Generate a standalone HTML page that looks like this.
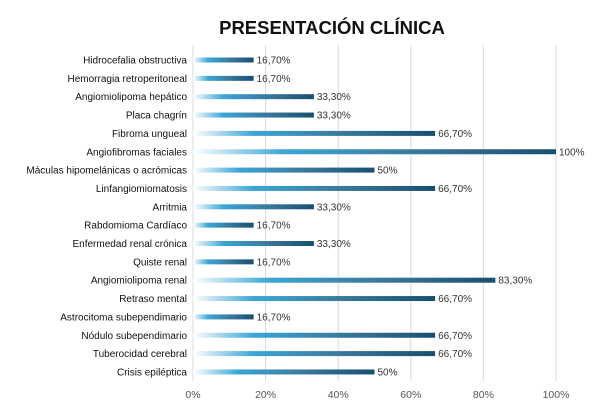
<!DOCTYPE html>
<html><head><meta charset="utf-8"><style>
body{margin:0;background:#fff;font-family:"Liberation Sans",sans-serif}
</style></head><body>
<svg id="c" width="600" height="406" xmlns="http://www.w3.org/2000/svg">
<defs><linearGradient id="g" x1="0" x2="1" y1="0" y2="0" gradientUnits="objectBoundingBox">
<stop offset="0" stop-color="#ffffff"/><stop offset="0.25" stop-color="#3aa6d8"/><stop offset="0.6" stop-color="#3a7a9e"/><stop offset="1" stop-color="#174f70"/></linearGradient></defs>
<text x="332" y="34" text-anchor="middle" font-size="18.5" font-weight="bold" fill="#111">PRESENTACIÓN CLÍNICA</text>
</svg>
<script>
const categories=["Hidrocefalia obstructiva","Hemorragia retroperitoneal","Angiomiolipoma hepático","Placa chagrín","Fibroma ungueal","Angiofibromas faciales","Máculas hipomelánicas o acrómicas","Linfangiomiomatosis","Arritmia","Rabdomioma Cardíaco","Enfermedad renal crónica","Quiste renal","Angiomiolipoma renal","Retraso mental","Astrocitoma subependimario","Nódulo subependimario","Tuberocidad cerebral","Crisis epiléptica"];
const values=[16.7,16.7,33.3,33.3,66.7,100,50,66.7,33.3,16.7,33.3,16.7,83.3,66.7,16.7,66.7,66.7,50];
const valueLabels=["16,70%","16,70%","33,30%","33,30%","66,70%","100%","50%","66,70%","33,30%","16,70%","33,30%","16,70%","83,30%","66,70%","16,70%","66,70%","66,70%","50%"];
const ticks=[0,20,40,60,80,100];
const NS="http://www.w3.org/2000/svg",svg=document.getElementById('c');
const x=v=>193+v*3.63, y=i=>60+i*18.35;
function mk(t,a){const e=document.createElementNS(NS,t);for(const k in a)e.setAttribute(k,a[k]);svg.appendChild(e);return e;}
ticks.forEach(t=>{
 const l=mk('line',{x1:x(t),x2:x(t),y1:45,y2:381,stroke:'#d9d9d9','stroke-width':1});
 
 
 const tx=mk('text',{x:x(t),y:398,'text-anchor':'middle','font-size':10.5,fill:'#555'});tx.textContent=t+'%';
 
 
});
categories.forEach((c,i)=>{
 const lb=mk('text',{x:187,y:y(i)+3.5,'text-anchor':'end','font-size':10,fill:'#111'});lb.textContent=c;
 
 
 const r=mk('rect',{x:x(0),y:y(i)-2.5,width:x(values[i])-x(0),height:5,fill:'url(#g)'});
 
 
 const v=mk('text',{x:x(values[i])+3,y:y(i)+3.5,'font-size':10,fill:'#333'});v.textContent=valueLabels[i];
 
 
});
</script>
</body></html>
